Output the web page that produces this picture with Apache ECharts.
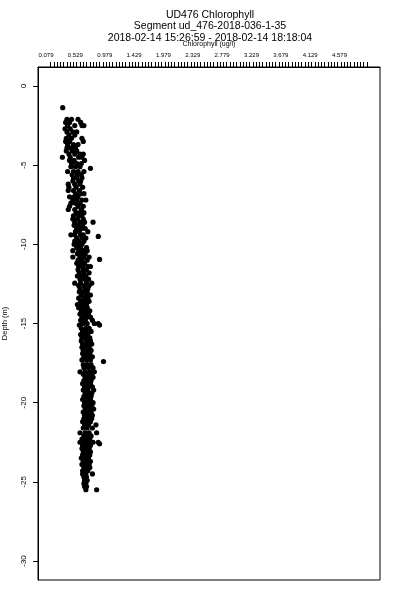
<!DOCTYPE html>
<html>
<head>
<meta charset="utf-8">
<script src="https://cdn.jsdelivr.net/npm/echarts@6/dist/echarts.min.js"></script>
<style>html,body{margin:0;padding:0;background:#fff}#c{width:400px;height:600px}</style>
</head>
<body>
<div id="c"></div>
<script>
// ---- data ----
const titleLines = ["UD476 Chlorophyll", "Segment ud_476-2018-036-1-35", "2018-02-14 15:26:59 - 2018-02-14 18:18:04"];
const xAxisName = "Chlorophyll (ug/l)";
const yAxisName = "Depth (m)";
const xTickValues = [0.079, 0.529, 0.979, 1.429, 1.879, 2.329, 2.779, 3.229, 3.679, 4.129, 4.579];
const xTickLabels = ["0.079", "0.529", "0.979", "1.429", "1.979", "2.329", "2.779", "3.229", "3.679", "4.129", "4.579"];
const yTickValues = [0, -5, -10, -15, -20, -25, -30];

// depth levels (m) and chlorophyll values (ug/l) observed at each level
const depthLevels = [
 -1.37, -2.1, -2.3, -2.5, -2.7, -2.9, -3.1, -3.3, -3.5, -3.7, -3.9,
 -4.1, -4.3, -4.5, -4.7, -4.9, -5.1, -5.2, -5.4, -5.6, -5.8,
 -6.0, -6.2, -6.4, -6.6, -6.8, -7.0, -7.2, -7.4, -7.6, -7.8,
 -8.0, -8.2, -8.4, -8.6, -8.8, -9.0, -9.2, -9.4, -9.5, -9.6, -9.8,
 -10.0, -10.2, -10.4, -10.6, -10.8, -10.95, -11.0, -11.2, -11.4, -11.6, -11.8,
 -12.0, -12.2, -12.45, -12.6, -12.8, -13.0, -13.2, -13.4, -13.6, -13.8,
 -14.0, -14.2, -14.4, -14.6, -14.8, -15.0, -15.1, -15.3, -15.5, -15.7, -15.9,
 -16.1, -16.3, -16.5, -16.7, -16.9, -17.1, -17.3, -17.4, -17.6, -17.8,
 -18.05, -18.2, -18.4, -18.6, -18.8, -19.0, -19.2, -19.4, -19.6, -19.8,
 -20.0, -20.2, -20.4, -20.6, -20.8, -21.0, -21.2, -21.4, -21.6, -21.9,
 -22.1, -22.3, -22.5, -22.6, -22.7, -22.9, -23.1, -23.3, -23.5, -23.7, -23.9,
 -24.1, -24.3, -24.5, -24.7, -24.9, -25.1, -25.3, -25.5
];
const chlAtLevel = [
 [0.335], [0.40,0.47,0.57], [0.38,0.44,0.61], [0.41,0.52,0.63,0.66], [0.37,0.45], [0.40,0.49,0.55],
 [0.43,0.52], [0.39,0.47,0.63], [0.38,0.44,0.65], [0.41,0.50,0.57], [0.40,0.46,0.53],
 [0.39,0.48,0.55], [0.43,0.52,0.60,0.65], [0.33,0.45,0.58,0.63], [0.44,0.51,0.67], [0.47,0.55,0.62],
 [0.46,0.53,0.60], [0.76], [0.41,0.50,0.57,0.66], [0.48,0.56,0.62], [0.50,0.55,0.63],
 [0.49,0.58,0.61], [0.42,0.52,0.60], [0.43,0.54,0.64], [0.42,0.50,0.59], [0.53,0.60,0.66],
 [0.44,0.51,0.57], [0.49,0.55,0.63,0.69], [0.46,0.53,0.60], [0.44,0.57,0.65], [0.42,0.52,0.62],
 [0.54,0.60,0.66], [0.50,0.58,0.63], [0.49,0.56,0.65], [0.52,0.60,0.67,0.80], [0.51,0.57,0.64],
 [0.55,0.62,0.68], [0.53,0.59,0.72], [0.46,0.52,0.61,0.65], [0.88], [0.55,0.63,0.69], [0.52,0.58,0.66],
 [0.51,0.57,0.63], [0.55,0.61,0.70], [0.49,0.58,0.65,0.71], [0.56,0.62,0.68], [0.49,0.60,0.66,0.74],
 [0.90], [0.57,0.63,0.71], [0.55,0.61,0.67], [0.58,0.64,0.72,0.76], [0.57,0.65,0.70], [0.59,0.66,0.74],
 [0.56,0.63,0.69], [0.60,0.67,0.73], [0.52,0.61,0.70,0.78], [0.58,0.66,0.74], [0.60,0.68,0.72],
 [0.59,0.64,0.71], [0.62,0.69,0.76], [0.58,0.66,0.72], [0.61,0.67,0.74], [0.56,0.63,0.70],
 [0.58,0.65,0.71], [0.62,0.68,0.75], [0.60,0.66,0.73], [0.63,0.70,0.76], [0.61,0.68,0.79],
 [0.65,0.71,0.82,0.88], [0.59,0.90], [0.62,0.69,0.74], [0.64,0.70,0.77], [0.61,0.67,0.72], [0.63,0.69,0.75],
 [0.62,0.70,0.76], [0.64,0.71,0.78], [0.63,0.69,0.74], [0.65,0.72,0.77], [0.64,0.70,0.75],
 [0.66,0.72,0.79], [0.63,0.70,0.76], [0.96], [0.65,0.71,0.77], [0.66,0.73,0.80],
 [0.60,0.68,0.75,0.82], [0.65,0.72,0.78], [0.68,0.74,0.80], [0.66,0.71,0.77], [0.64,0.70,0.76],
 [0.67,0.73,0.79], [0.65,0.72,0.81], [0.68,0.74,0.78], [0.66,0.71,0.77], [0.64,0.70,0.76],
 [0.67,0.73,0.80], [0.66,0.72,0.78], [0.68,0.75,0.81], [0.65,0.71,0.77], [0.67,0.74,0.79],
 [0.66,0.72,0.78], [0.64,0.70,0.76], [0.67,0.73,0.845], [0.65,0.71,0.79], [0.60,0.68,0.74,0.855],
 [0.66,0.72,0.77], [0.63,0.69,0.75], [0.60,0.67,0.73,0.80,0.88], [0.90], [0.64,0.70,0.76],
 [0.63,0.68,0.74], [0.65,0.71,0.76], [0.64,0.69,0.75], [0.62,0.68,0.73], [0.65,0.70,0.76],
 [0.63,0.69,0.74], [0.66,0.71,0.75], [0.64,0.68,0.72], [0.64,0.69,0.79], [0.66,0.70],
 [0.67,0.71], [0.66,0.69], [0.67,0.70], [0.69,0.855]
];

// ---- build chart ----
const points = [];
depthLevels.forEach((d, i) => chlAtLevel[i].forEach(v => points.push([v, d])));

const minorTicks = [];
for (let k = 3; k <= 100; k++) minorTicks.push(+(k * 0.05).toFixed(2));

const labelMap = {};
xTickValues.forEach((v, i) => { labelMap[v.toFixed(3)] = xTickLabels[i]; });

const FONT = "Liberation Sans, Arial, sans-serif";
const chart = echarts.init(document.getElementById('c'), null, {renderer: 'canvas'});
chart.setOption({
  animation: false,
  backgroundColor: '#fff',
  title: {
    text: titleLines.join('\n'),
    left: 205, top: 4, textAlign: 'center',
    textStyle: {fontSize: 10.5, fontWeight: 'normal', color: '#000', lineHeight: 11.5, fontFamily: FONT}
  },
  grid: {left: 38, right: 20, top: 67, bottom: 20, show: true, borderColor: '#000', borderWidth: 1,
    backgroundColor: 'transparent', outerBoundsMode: 'none', containLabel: false},
  xAxis: {
    type: 'value', position: 'top', min: -0.044, max: 5.2,
    name: xAxisName, nameLocation: 'middle', nameGap: 17,
    nameTextStyle: {fontSize: 7, color: '#000', fontFamily: FONT},
    axisLine: {show: true, onZero: false, lineStyle: {color: '#000', width: 1}},
    axisTick: {show: true, length: 5, inside: false, customValues: minorTicks, lineStyle: {color: '#000', width: 1}},
    axisLabel: {show: true, customValues: xTickValues, margin: 9, fontSize: 6, color: '#000', fontFamily: FONT,
      formatter: v => labelMap[(+v).toFixed(3)] || ''},
    splitLine: {show: false}
  },
  yAxis: {
    type: 'value', min: -31.2, max: 1.2,
    name: yAxisName, nameLocation: 'middle', nameGap: 29, nameRotate: 90,
    nameTextStyle: {fontSize: 7.5, color: '#000', fontFamily: FONT},
    axisLine: {show: true, onZero: false, lineStyle: {color: '#000', width: 1}},
    axisTick: {show: true, length: 5, inside: false, customValues: yTickValues, lineStyle: {color: '#000', width: 1}},
    axisLabel: {show: true, customValues: yTickValues, rotate: 90, margin: 10, fontSize: 8, color: '#000', fontFamily: FONT},
    splitLine: {show: false}
  },
  series: [{
    type: 'scatter', data: points, symbol: 'circle', symbolSize: 5.2,
    itemStyle: {color: '#000', opacity: 1}, silent: true
  }]
});
</script>
</body>
</html>
